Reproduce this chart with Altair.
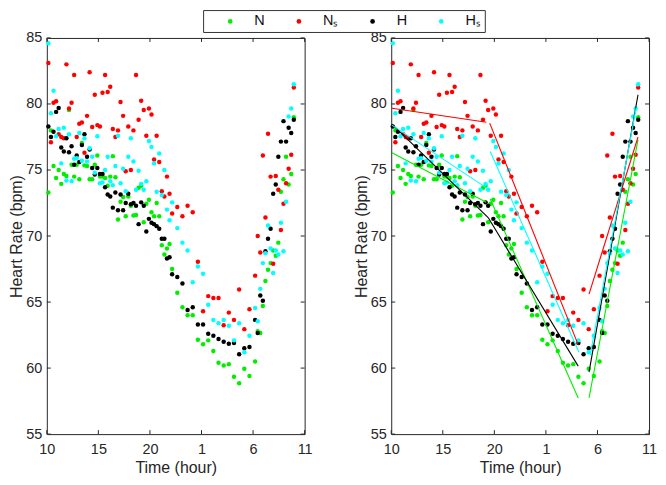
import altair as alt
import pandas as pd

# ---------------- data ----------------
series_names = ["N", "Nₛ", "H", "Hₛ"]
series_colors = ["#00ee00", "#ff0000", "#000000", "#00ffff"]

# time of day in hours (values > 24 are the following morning)
time_hours = [
    10.15, 10.40, 10.65, 10.90, 11.15, 11.40, 11.65, 11.90, 12.15, 12.40, 12.65, 12.90,
    13.15, 13.40, 13.65, 13.90, 14.15, 14.40, 14.65, 14.90, 15.15, 15.40, 15.65, 15.90,
    16.15, 16.40, 16.65, 16.90, 17.15, 17.40, 17.65, 17.90, 18.15, 18.40, 18.65, 18.90,
    19.15, 19.40, 19.65, 19.90, 20.15, 20.40, 20.65, 20.90, 21.15, 21.40, 21.65, 21.90,
    22.15, 22.65, 23.15, 23.65, 24.15, 24.65, 25.15, 25.65, 26.15, 26.65, 27.15, 27.65,
    28.15, 28.65, 29.15, 29.65,
    30.20, 30.45, 30.70, 30.95, 31.20, 31.45, 31.70, 31.95, 32.20, 32.45, 32.70, 32.95,
    33.20, 33.45, 33.70, 33.95,
]

n_hr = [
    73.3, 78.0, 75.3, 74.4, 75.0, 73.95, 74.7, 74.55, 79.55, 75.4, 74.5, 75.4,
    74.3, 77.05, 75.35, 75.3, 74.3, 74.3, 75.4, 76.1, 74.5, 74.5, 74.4, 73.8,
    74.5, 76.05, 74.45, 71.25, 72.6, 72.95, 71.5, 73.0, 72.3, 71.55, 71.6, 73.65,
    73.8, 71.05, 72.45, 72.75, 71.8, 71.5, 72.5, 71.5, 69.3, 68.6, 69.05, 69.4,
    67.5, 65.7, 64.6, 64.0, 64.0, 62.15, 61.8, 62.1, 61.3, 60.4, 60.2, 60.3,
    59.35, 58.85, 59.95, 59.4,
    60.5, 62.8, 62.65, 64.7, 66.6, 67.45, 67.95, 68.9, 68.5, 69.5, 73.35, 74.3,
    76.0, 73.9, 74.7, 79.0,
]

ns_hr = [
    83.1, 77.1, 80.1, 80.2, 77.7, 77.5, 77.4, 83.0, 79.65, 80.1, 82.2, 77.5,
    78.5, 78.6, 76.3, 79.1, 82.4, 78.25, 80.7, 78.4, 78.3, 80.85, 82.2, 80.9,
    81.3, 78.1, 77.5, 78.0, 80.15, 79.1, 74.9, 78.3, 75.0, 78.0, 82.2, 78.8,
    80.25, 79.55, 77.6, 79.65, 79.2, 75.8, 77.6, 75.6, 73.4, 73.0, 74.5, 73.2,
    71.7, 72.2, 71.5, 72.3, 71.8, 68.05, 64.3, 65.45, 65.3, 65.3, 63.25, 64.2,
    63.65, 65.95, 62.95, 64.45,
    67.0, 70.0, 68.75, 76.1, 71.4, 77.75, 74.5, 67.9, 74.55, 73.5, 70.45, 72.45,
    74.0, 75.1, 76.15, 81.25,
]

h_hr = [
    78.3, 77.5, 77.9, 79.4, 79.7, 76.7, 76.4, 77.4, 76.35, 76.8, 75.4, 76.1,
    75.6, 76.9, 77.7, 76.0, 76.55, 75.15, 74.65, 75.15, 74.7, 74.7, 73.7, 73.15,
    73.0, 72.15, 73.3, 71.95, 73.15, 71.95, 72.5, 73.2, 72.4, 72.5, 72.3, 70.9,
    72.55, 72.3, 70.35, 71.3, 71.0, 70.9, 70.75, 70.55, 69.8, 69.8, 68.3, 68.4,
    67.1, 66.9, 66.4, 64.4, 64.6, 63.3, 63.3, 62.6, 62.45, 62.2, 62.0, 61.85,
    61.9, 61.05, 61.5, 61.6,
    63.65, 62.65, 65.5, 65.1, 68.85, 69.8, 70.55, 73.2, 73.9, 76.0, 77.15, 78.7,
    77.15, 78.2, 77.8, 78.8,
]

hs_hr = [
    84.6, 79.3, 81.0, 77.55, 78.1, 75.5, 78.2, 74.2, 77.7, 74.15, 75.85, 75.9,
    77.8, 75.7, 77.4, 75.65, 76.65, 76.0, 74.8, 77.55, 74.0, 74.05, 75.0, 76.0,
    74.15, 73.85, 75.3, 77.6, 74.0, 75.1, 73.4, 76.0, 77.4, 75.65, 73.5, 74.95,
    73.95, 73.5, 74.15, 77.2, 76.75, 75.5, 73.35, 76.25, 73.1, 75.0, 72.0, 71.2,
    72.55, 70.6, 69.5, 68.9, 66.5, 67.7, 67.15, 64.8, 63.65, 63.4, 63.65, 63.2,
    62.1, 63.4, 61.2, 62.45,
    64.55, 63.55, 66.0, 67.95, 68.7, 70.8, 69.05, 67.2, 68.9, 68.6, 71.0, 68.85,
    72.6, 79.05, 79.65, 81.5,
]

# piecewise linear fits (segment start/end pairs) shown in the right panel
n_fit_t = [10.07, 19.22, 19.60, 28.13, 29.18, 33.93]
n_fit_v = [76.30, 72.56, 72.80, 57.74, 57.74, 77.30]
ns_fit_t = [10.07, 19.23, 19.55, 28.13, 29.18, 33.93]
ns_fit_v = [79.67, 78.62, 78.55, 61.76, 65.60, 77.50]
h_fit_t = [10.07, 19.40, 19.40, 28.13, 29.18, 33.93]
h_fit_v = [78.47, 71.40, 71.40, 60.15, 59.70, 80.70]
hs_fit_t = [10.07, 19.38, 19.60, 28.20, 29.30, 33.75]
hs_fit_v = [78.40, 73.57, 76.40, 61.20, 61.00, 79.70]

x_ticks = [10, 15, 20, 25, 30, 35]
y_ticks = [55, 60, 65, 70, 75, 80, 85]

# ---------------- tables ----------------
rows = []
for name, vals in zip(series_names, [n_hr, ns_hr, h_hr, hs_hr]):
    for t, v in zip(time_hours, vals):
        rows.append({"series": name, "t": t, "hr": v})
pts = pd.DataFrame(rows)

fit_rows = []
for name, col, ft, fv in zip(series_names, series_colors,
                             [n_fit_t, ns_fit_t, h_fit_t, hs_fit_t],
                             [n_fit_v, ns_fit_v, h_fit_v, hs_fit_v]):
    for i, (t, v) in enumerate(zip(ft, fv)):
        fit_rows.append({"series": name, "seg": f"{name}-{i // 2}", "t": t, "hr": v, "col": col})
fits = pd.DataFrame(fit_rows)

xt = pd.DataFrame({"t": x_ticks})
yt = pd.DataFrame({"hr": y_ticks})

# ---------------- styling ----------------
W, H = 259, 398
AX = "#262626"
FONT = "Liberation Sans"

xscale = alt.Scale(domain=[10, 35], nice=False, zero=False)
yscale = alt.Scale(domain=[55, 85], nice=False, zero=False)

x_axis = alt.Axis(values=x_ticks, title="Time (hour)", grid=False, ticks=False, domain=False,
                  labelExpr="datum.value > 24 ? datum.value - 24 : datum.value",
                  labelFlush=False, labelOverlap=False, labelPadding=8, titlePadding=4)
y_axis = alt.Axis(values=y_ticks, title="Heart Rate (bpm)", grid=False, ticks=False, domain=False,
                  labelFlush=False, labelOverlap=False, labelPadding=5, titlePadding=1)


def X():
    return alt.X("t:Q", scale=xscale, axis=x_axis, title="Time (hour)")


def Y():
    return alt.Y("hr:Q", scale=yscale, axis=y_axis, title="Heart Rate (bpm)")


legend = alt.Legend(orient="none", legendX=157, legendY=-28, direction="horizontal",
                    title=None, symbolType="circle", symbolSize=22, symbolStrokeWidth=0,
                    labelFontSize=14.5, labelOffset=17, columnPadding=11, padding=4,
                    symbolOffset=16, strokeColor="#333333", fillColor="white",
                    cornerRadius=0, labelColor="#111111")

points = alt.Chart(pts).mark_circle(size=20, opacity=1).encode(
    x=X(), y=Y(),
    color=alt.Color("series:N", scale=alt.Scale(domain=series_names, range=series_colors),
                    legend=legend),
)

lines = alt.Chart(fits).mark_line(strokeWidth=1.1).encode(
    x=X(), y=Y(), detail="seg:N", color=alt.Color("col:N", scale=None),
)

tk = dict(color=AX, strokeWidth=1)
tick_len = 4
bottom_ticks = alt.Chart(xt).mark_rule(**tk).encode(x=X(), y=alt.value(H), y2=alt.value(H - tick_len))
top_ticks = alt.Chart(xt).mark_rule(**tk).encode(x=X(), y=alt.value(0), y2=alt.value(tick_len))
left_ticks = alt.Chart(yt).mark_rule(**tk).encode(y=Y(), x=alt.value(0), x2=alt.value(tick_len))
right_ticks = alt.Chart(yt).mark_rule(**tk).encode(y=Y(), x=alt.value(W), x2=alt.value(W - tick_len))

ticks = [bottom_ticks, top_ticks, left_ticks, right_ticks]

left_panel = alt.layer(points, *ticks).properties(width=W, height=H)
right_panel = alt.layer(points, lines, *ticks).properties(width=W, height=H)

chart = alt.hconcat(left_panel, right_panel, spacing=39).properties(
    padding={"left": 0, "top": 0, "right": 0, "bottom": 0}
).configure_view(
    stroke=AX, strokeWidth=1
).configure_axis(
    labelFont=FONT, titleFont=FONT, labelFontSize=14.5, titleFontSize=16,
    labelColor=AX, titleColor=AX, titleFontWeight="normal"
).configure_legend(
    labelFont=FONT
)

chart.save("out.html", embed_options={"renderer": "svg", "actions": False})
